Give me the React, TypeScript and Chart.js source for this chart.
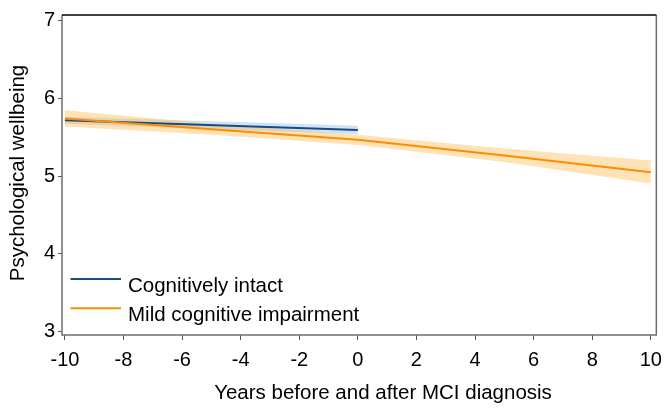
import React, { useEffect, useRef } from "react";
import { Chart, registerables } from "chart.js";

Chart.register(...registerables);

// ---- data ----
const xBlue = [-10, 0];
const blueMean = [5.715, 5.59];
const blueLow = [5.67, 5.536];
const blueHigh = [5.76, 5.644];

const xOrange = [-10, -5, 0, 5, 10];
const orangeMean = [5.74, 5.6, 5.465, 5.265, 5.05];
const orangeLow = [5.635, 5.53, 5.4, 5.18, 4.905];
const orangeHigh = [5.845, 5.67, 5.53, 5.355, 5.2];

const xTicks = [-10, -8, -6, -4, -2, 0, 2, 4, 6, 8, 10];
const yTicks = [3, 4, 5, 6, 7];
const seriesLabels = ["Cognitively intact", "Mild cognitive impairment"];
const xTitle = "Years before and after MCI diagnosis";
const yTitle = "Psychological wellbeing";

const BLUE = "#1a4a86";
const ORANGE = "#ff8c00";
const BLUE_BAND = "rgba(140,195,240,0.45)";
const ORANGE_BAND = "rgba(255,185,80,0.42)";
const FONT = "'Liberation Sans', Arial, sans-serif";

const pts = (xs: number[], ys: number[]) => xs.map((x, i) => ({ x, y: ys[i] }));

const framePlugin = {
  id: "frameAndLegend",
  afterDraw(chart: any) {
    const { ctx, chartArea } = chart;
    const { left, right, top, bottom } = chartArea;
    ctx.save();
    // axes / frame
    ctx.lineWidth = 1.5;
    ctx.strokeStyle = "#6e6e6e";
    ctx.beginPath();
    ctx.moveTo(left, top);
    ctx.lineTo(left, bottom);
    ctx.lineTo(right, bottom);
    ctx.lineTo(right, top);
    ctx.stroke();
    ctx.strokeStyle = "#000";
    ctx.beginPath();
    ctx.moveTo(left, top);
    ctx.lineTo(right, top);
    ctx.stroke();

    // legend
    const colors = [BLUE, ORANGE];
    ctx.font = `20.5px ${FONT}`;
    ctx.fillStyle = "#000";
    ctx.textAlign = "left";
    ctx.textBaseline = "alphabetic";
    seriesLabels.forEach((lab, i) => {
      const ly = 279 + i * 29.3;
      ctx.strokeStyle = colors[i];
      ctx.lineWidth = 2;
      ctx.beginPath();
      ctx.moveTo(70.5, ly);
      ctx.lineTo(121, ly);
      ctx.stroke();
      ctx.fillText(lab, 128, 291.7 + i * 29.3);
    });

    // axis titles
    ctx.textAlign = "center";
    ctx.textBaseline = "middle";
    ctx.fillText(xTitle, 383, 393);
    ctx.translate(18.5, 173);
    ctx.rotate(-Math.PI / 2);
    ctx.fillText(yTitle, 0, 0);
    ctx.restore();
  },
};

export default function App() {
  const ref = useRef<HTMLCanvasElement>(null);
  useEffect(() => {
    if (!ref.current) return;
    const chart = new Chart(ref.current, {
      type: "line",
      data: {
        datasets: [
          {
            label: "blueHigh",
            data: pts(xBlue, blueHigh),
            borderWidth: 0,
            pointRadius: 0,
            fill: false,
            order: 3,
          },
          {
            label: "blueLow",
            data: pts(xBlue, blueLow),
            borderWidth: 0,
            pointRadius: 0,
            fill: "-1",
            backgroundColor: BLUE_BAND,
            order: 3,
          },
          {
            label: "orangeHigh",
            data: pts(xOrange, orangeHigh),
            borderWidth: 0,
            pointRadius: 0,
            fill: false,
            order: 2,
          },
          {
            label: "orangeLow",
            data: pts(xOrange, orangeLow),
            borderWidth: 0,
            pointRadius: 0,
            fill: "-1",
            backgroundColor: ORANGE_BAND,
            order: 2,
          },
          {
            label: seriesLabels[0],
            data: pts(xBlue, blueMean),
            borderColor: BLUE,
            borderWidth: 2,
            pointRadius: 0,
            fill: false,
            order: 1,
          },
          {
            label: seriesLabels[1],
            data: pts(xOrange, orangeMean),
            borderColor: ORANGE,
            borderWidth: 2,
            pointRadius: 0,
            fill: false,
            order: 0,
          },
        ],
      },
      options: {
        responsive: false,
        animation: false,
        layout: { padding: { top: 8, right: 11, left: 0, bottom: 0 } },
        plugins: { legend: { display: false }, tooltip: { enabled: false } },
        scales: {
          x: {
            type: "linear",
            min: -10.1,
            max: 10.19,
            afterBuildTicks: (axis: any) => {
              axis.ticks = xTicks.map((v) => ({ value: v }));
            },
            afterFit: (axis: any) => {
              axis.height = 75;
            },
            border: { display: false },
            grid: {
              drawOnChartArea: false,
              drawTicks: true,
              tickLength: 5,
              color: "#555",
              lineWidth: 1,
            },
            ticks: {
              autoSkip: false,
              maxRotation: 0,
              padding: 8,
              color: "#000",
              font: { family: FONT, size: 20 },
            },
          },
          y: {
            type: "linear",
            min: 2.96,
            max: 7.067,
            afterBuildTicks: (axis: any) => {
              axis.ticks = yTicks.map((v) => ({ value: v }));
            },
            afterFit: (axis: any) => {
              axis.width = 62;
            },
            border: { display: false },
            grid: {
              drawOnChartArea: false,
              drawTicks: true,
              tickLength: 4,
              color: "#555",
              lineWidth: 1,
            },
            ticks: {
              padding: 3,
              color: "#000",
              font: { family: FONT, size: 20 },
            },
          },
        },
      },
      plugins: [framePlugin],
    } as any);
    return () => chart.destroy();
  }, []);

  return (
    <div style={{ position: "fixed", left: 0, top: 0, width: 670, height: 410, background: "#fff" }}>
      <canvas ref={ref} width={670} height={410} style={{ width: 670, height: 410 }} />
    </div>
  );
}
